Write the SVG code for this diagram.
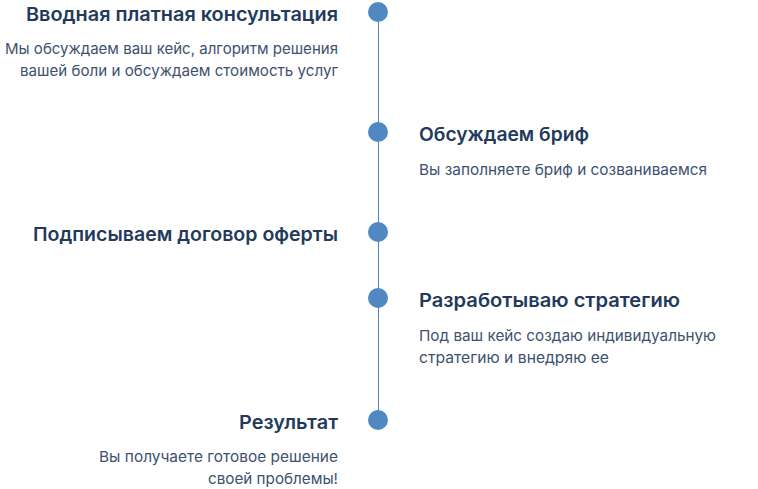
<svg xmlns="http://www.w3.org/2000/svg" width="758" height="489" viewBox="0 0 758 489">
<style>
.t{font-family:Inter,"Noto Sans",sans-serif;font-weight:600;font-size:19px;fill:#233a5c}
.d{font-family:Inter,"Noto Sans",sans-serif;font-weight:400;font-size:15px;fill:#3d5170}
.r{text-anchor:end}
.dot{fill:#5088c2}
</style>
<rect width="758" height="489" fill="#ffffff"/>
<g id="connectors">
<line x1="378.5" y1="12" x2="378.5" y2="420" stroke="#4a84c0" stroke-width="1"/>
</g>
<g id="n1">
<circle class="dot" cx="378" cy="12" r="10"/>
<text class="t r" x="338" y="21" textLength="312" lengthAdjust="spacingAndGlyphs">Вводная платная консультация</text>
<text class="d r" x="338" y="54" textLength="333" lengthAdjust="spacingAndGlyphs">Мы обсуждаем ваш кейс, алгоритм решения</text>
<text class="d r" x="338" y="76" textLength="318" lengthAdjust="spacingAndGlyphs">вашей боли и обсуждаем стоимость услуг</text>
</g>
<g id="n2">
<circle class="dot" cx="378" cy="132" r="10"/>
<text class="t" x="419" y="141" textLength="170" lengthAdjust="spacingAndGlyphs">Обсуждаем бриф</text>
<text class="d" x="419" y="175" textLength="288" lengthAdjust="spacingAndGlyphs">Вы заполняете бриф и созваниваемся</text>
</g>
<g id="n3">
<circle class="dot" cx="378" cy="232" r="10"/>
<text class="t r" x="338" y="241" textLength="305" lengthAdjust="spacingAndGlyphs">Подписываем договор оферты</text>
</g>
<g id="n4">
<circle class="dot" cx="378" cy="298" r="10"/>
<text class="t" x="419" y="307" textLength="261" lengthAdjust="spacingAndGlyphs">Разработываю стратегию</text>
<text class="d" x="419" y="341" textLength="297" lengthAdjust="spacingAndGlyphs">Под ваш кейс создаю индивидуальную</text>
<text class="d" x="419" y="363" textLength="190" lengthAdjust="spacingAndGlyphs">стратегию и внедряю ее</text>
</g>
<g id="n5">
<circle class="dot" cx="378" cy="420" r="10"/>
<text class="t r" x="338" y="429" textLength="99" lengthAdjust="spacingAndGlyphs">Результат</text>
<text class="d r" x="338" y="462" textLength="239" lengthAdjust="spacingAndGlyphs">Вы получаете готовое решение</text>
<text class="d r" x="338" y="484" textLength="130" lengthAdjust="spacingAndGlyphs">своей проблемы!</text>
</g>
</svg>
